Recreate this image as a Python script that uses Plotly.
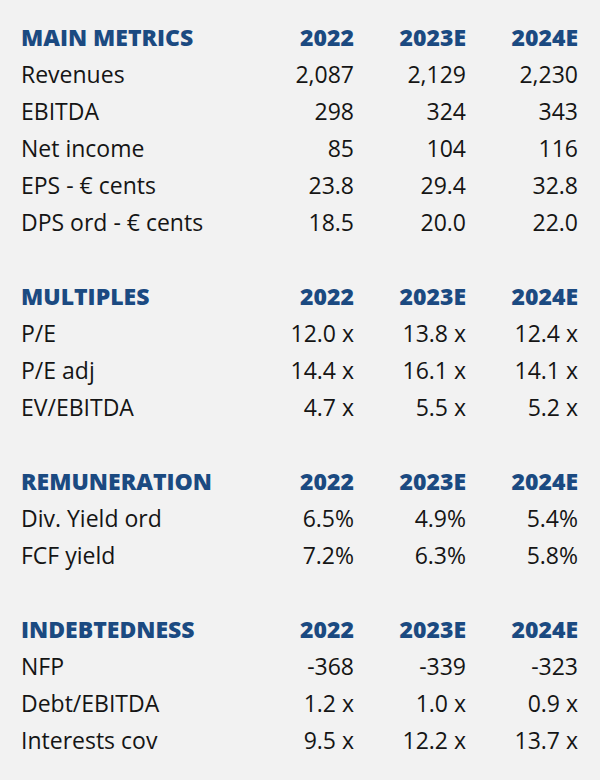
import plotly.graph_objects as go

years = ["2022", "2023E", "2024E"]

sections = ["MAIN METRICS", "MULTIPLES", "REMUNERATION", "INDEBTEDNESS"]

main_labels = ["Revenues", "EBITDA", "Net income", "EPS - € cents", "DPS ord - € cents"]
main_2022 = ["2,087", "298", "85", "23.8", "18.5"]
main_2023 = ["2,129", "324", "104", "29.4", "20.0"]
main_2024 = ["2,230", "343", "116", "32.8", "22.0"]

mult_labels = ["P/E", "P/E adj", "EV/EBITDA"]
mult_2022 = ["12.0 x", "14.4 x", "4.7 x"]
mult_2023 = ["13.8 x", "16.1 x", "5.5 x"]
mult_2024 = ["12.4 x", "14.1 x", "5.2 x"]

rem_labels = ["Div. Yield ord", "FCF yield"]
rem_2022 = ["6.5%", "7.2%"]
rem_2023 = ["4.9%", "6.3%"]
rem_2024 = ["5.4%", "5.8%"]

debt_labels = ["NFP", "Debt/EBITDA", "Interests cov"]
debt_2022 = ["-368", "1.2 x", "9.5 x"]
debt_2023 = ["-339", "1.0 x", "12.2 x"]
debt_2024 = ["-323", "0.9 x", "13.7 x"]

blocks = [
    (sections[0], main_labels, main_2022, main_2023, main_2024),
    (sections[1], mult_labels, mult_2022, mult_2023, mult_2024),
    (sections[2], rem_labels, rem_2022, rem_2023, rem_2024),
    (sections[3], debt_labels, debt_2022, debt_2023, debt_2024),
]

# layout
W, H = 600, 780
row_h = 37.0
y0 = 40.5
label_x = 21
col_x = [354, 466, 578]
head_color = "#1b4a81"
txt_color = "#151515"
font_fam = "Open Sans, sans-serif"
fsize = 23

head_lbl_x, head_lbl_y, head_lbl_t = [], [], []
head_col_x, head_col_y, head_col_t = [], [], []
lbl_x, lbl_y, lbl_t = [], [], []
val_x, val_y, val_t = [], [], []

r = 0
for title, labels, c1, c2, c3 in blocks:
    y = y0 + r * row_h
    head_lbl_x.append(label_x); head_lbl_y.append(y); head_lbl_t.append(title)
    for cx, yr in zip(col_x, years):
        head_col_x.append(cx); head_col_y.append(y); head_col_t.append(yr)
    r += 1
    for i, lab in enumerate(labels):
        y = y0 + r * row_h
        lbl_x.append(label_x); lbl_y.append(y); lbl_t.append(lab)
        for cx, col in zip(col_x, (c1, c2, c3)):
            val_x.append(cx); val_y.append(y); val_t.append(col[i])
        r += 1
    r += 1

fig = go.Figure()
fig.add_trace(go.Scatter(x=head_lbl_x, y=head_lbl_y, text=head_lbl_t, mode="text",
                         textposition="middle right",
                         textfont=dict(family=font_fam, size=fsize, color=head_color, weight=800),
                         hoverinfo="skip"))
fig.add_trace(go.Scatter(x=head_col_x, y=head_col_y, text=head_col_t, mode="text",
                         textposition="middle left",
                         textfont=dict(family=font_fam, size=fsize, color=head_color, weight=800),
                         hoverinfo="skip"))
fig.add_trace(go.Scatter(x=lbl_x, y=lbl_y, text=lbl_t, mode="text",
                         textposition="middle right",
                         textfont=dict(family=font_fam, size=fsize, color=txt_color),
                         hoverinfo="skip"))
fig.add_trace(go.Scatter(x=val_x, y=val_y, text=val_t, mode="text",
                         textposition="middle left",
                         textfont=dict(family=font_fam, size=fsize, color=txt_color),
                         hoverinfo="skip"))

fig.update_layout(
    width=W, height=H,
    margin=dict(l=0, r=0, t=0, b=0),
    paper_bgcolor="#f2f2f2", plot_bgcolor="#f2f2f2",
    showlegend=False,
    xaxis=dict(range=[0, W], visible=False, fixedrange=True),
    yaxis=dict(range=[H, 0], visible=False, fixedrange=True),
)

fig.write_html("out.html", config={"displayModeBar": False},
               post_script="document.body.style.margin='0';document.body.style.background='#f2f2f2';")
